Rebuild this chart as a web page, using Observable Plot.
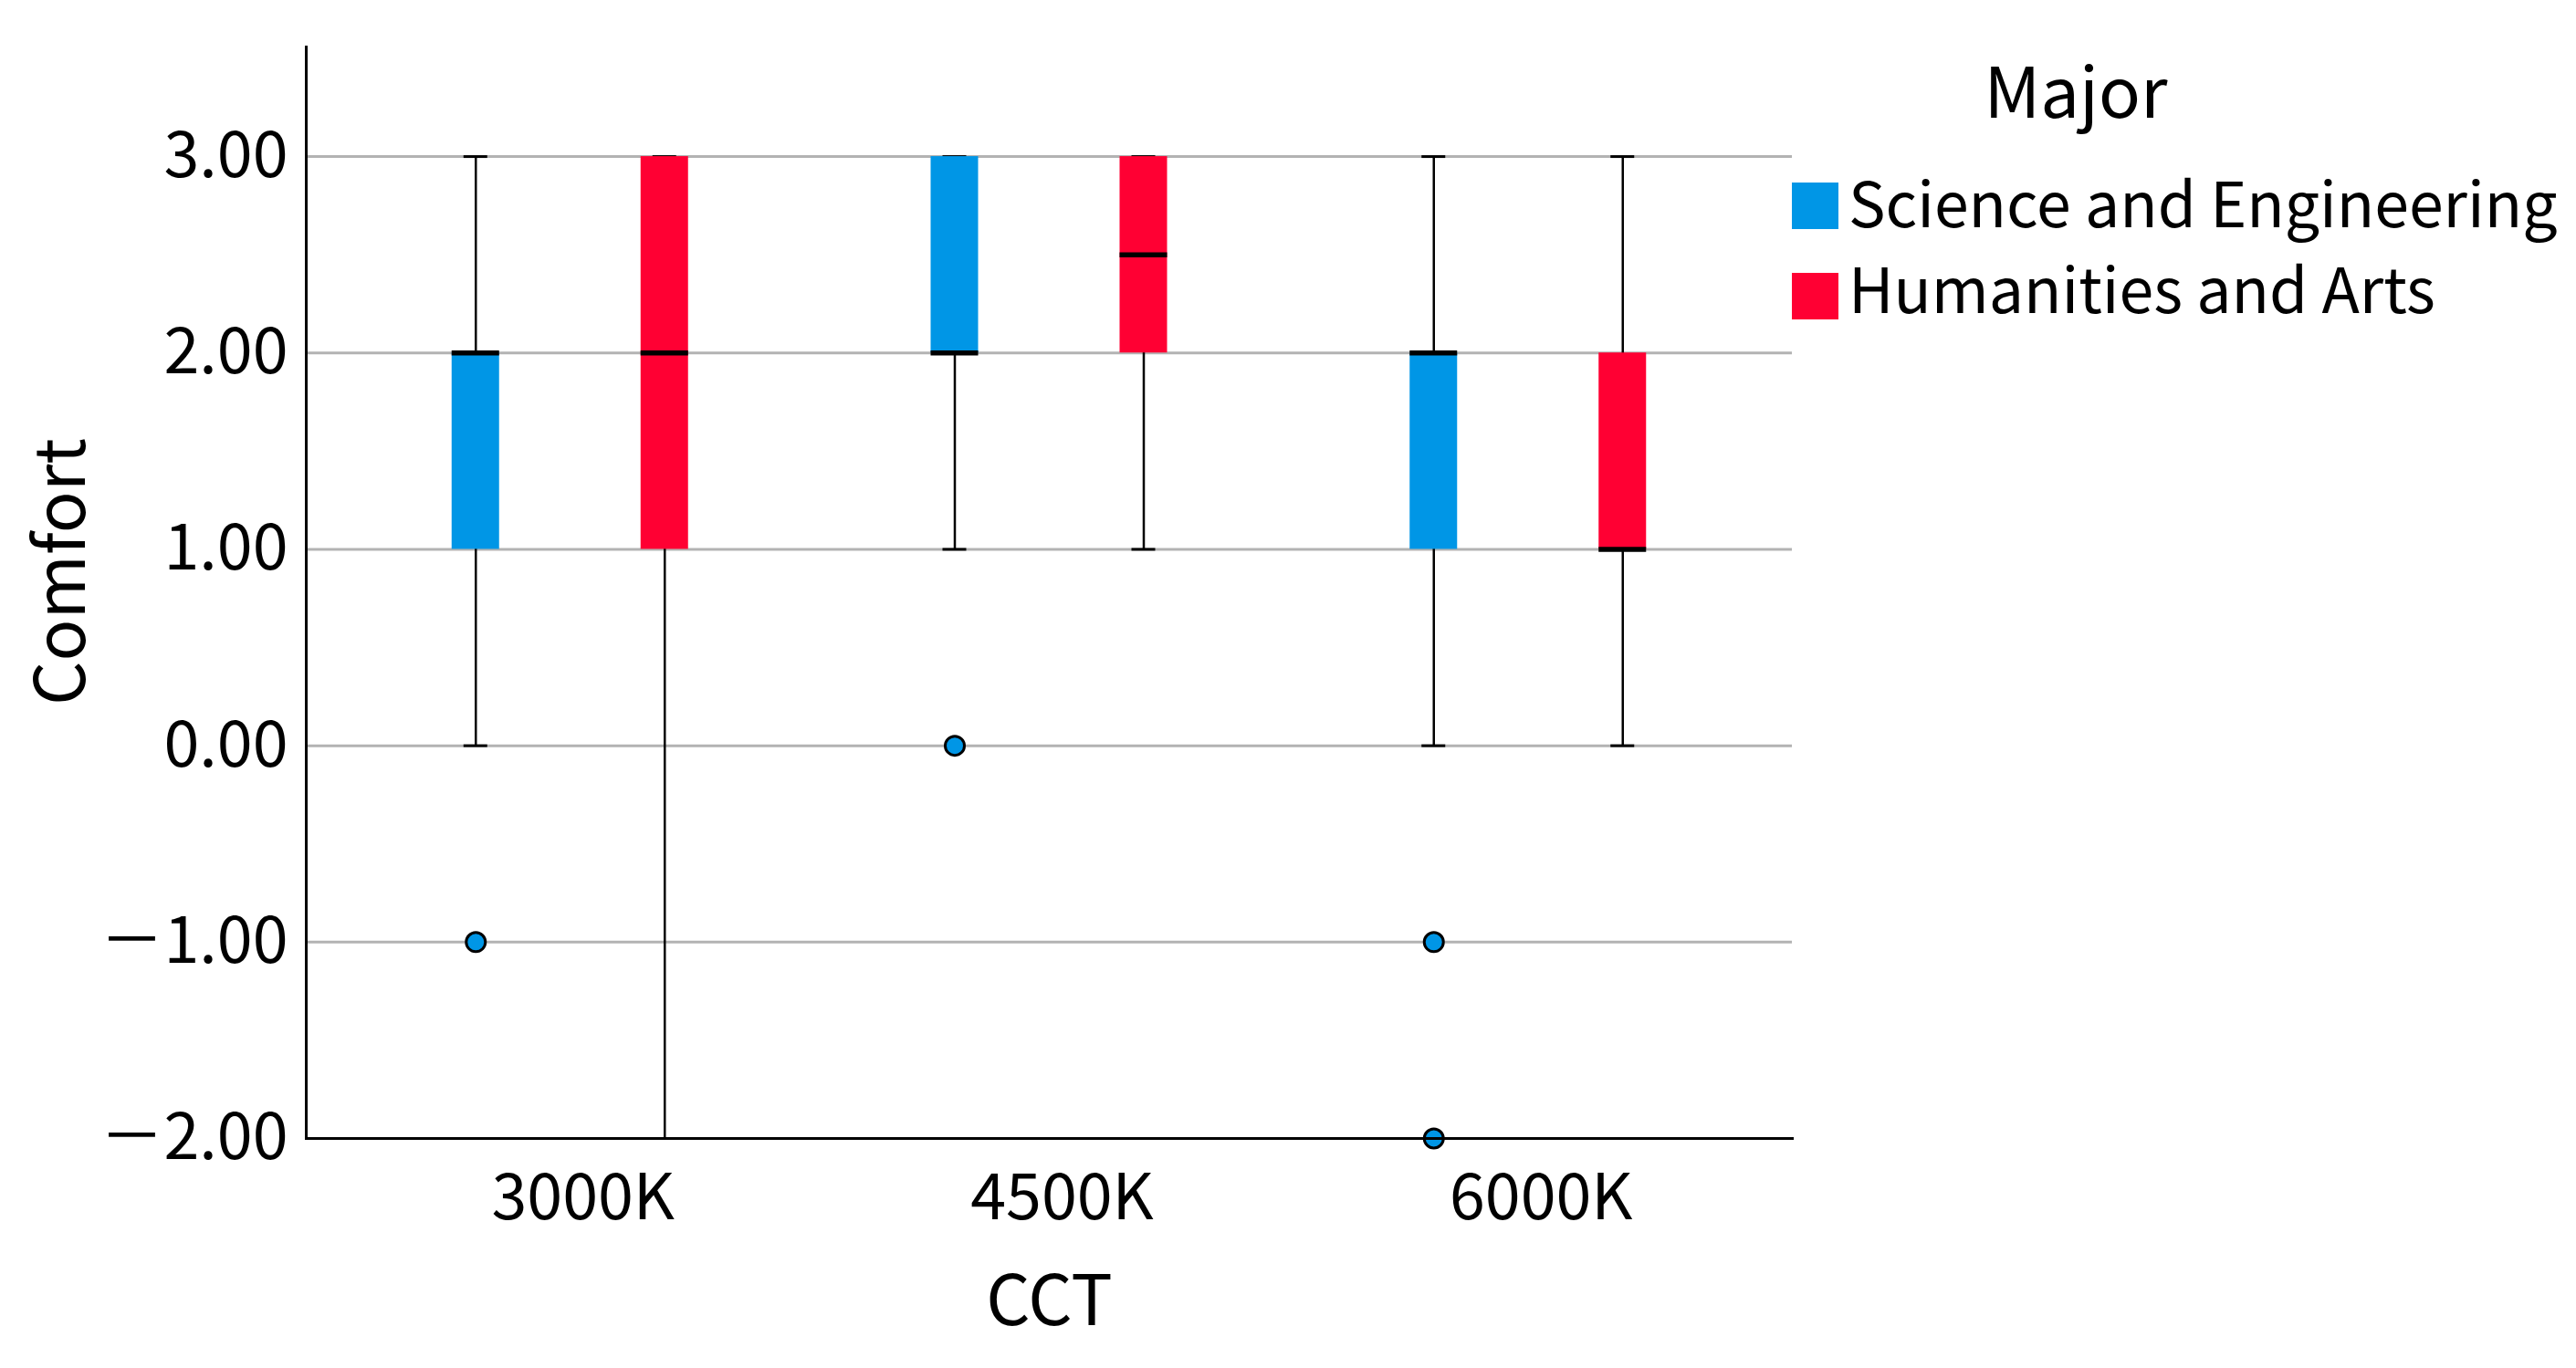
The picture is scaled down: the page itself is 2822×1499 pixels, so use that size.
<!DOCTYPE html>
<html>
<head>
<meta charset="utf-8">
<script src="https://cdn.jsdelivr.net/npm/d3@7"></script>
<script src="https://cdn.jsdelivr.net/npm/@observablehq/plot@0.6"></script>
<style>
  html, body { margin: 0; padding: 0; background: white; }
  #wrap { position: relative; width: 2822px; height: 1499px; }
  #legend { position: absolute; left: 0; top: 0; font-family: "Noto Sans CJK SC", "Noto Sans", sans-serif; color: black; }
  .lg-title { position: absolute; white-space: nowrap; font-size: 76px; line-height: 76px; transform: translateX(-50%); }
  .lg-item { position: absolute; white-space: nowrap; font-size: 68px; line-height: 68px; }
  .sw { position: absolute; width: 51px; height: 51px; }
</style>
</head>
<body>
<div id="wrap"><div id="chart"></div><div id="legend"></div></div>
<script>
// ---- data ----
const cct = ["3000K", "4500K", "6000K"];
const majors = ["Science and Engineering", "Humanities and Arts"];
const colors = ["#0096e6", "#ff0033"];

// Science and Engineering box statistics per CCT
const seLow    = [0, 1, 0];
const seQ1     = [1, 2, 1];
const seMedian = [2, 2, 2];
const seQ3     = [2, 3, 2];
const seHigh   = [3, 3, 3];

// Humanities and Arts box statistics per CCT
const haLow    = [-2, 1, 0];
const haQ1     = [1, 2, 1];
const haMedian = [2, 2.5, 1];
const haQ3     = [3, 3, 2];
const haHigh   = [3, 3, 3];

// outliers (all Science and Engineering)
const outlierCCT   = ["3000K", "4500K", "6000K", "6000K"];
const outlierValue = [-1, 0, -1, -2];

const yTicks = [-2, -1, 0, 1, 2, 3];

// ---- build tables ----
function rows(low, q1, med, q3, high, major) {
  return cct.map((c, i) => ({cct: c, major, low: low[i], q1: q1[i], med: med[i], q3: q3[i], high: high[i]}));
}
const seRows = rows(seLow, seQ1, seMedian, seQ3, seHigh, majors[0]);
const haRows = rows(haLow, haQ1, haMedian, haQ3, haHigh, majors[1]);
const outliers = outlierCCT.map((c, i) => ({cct: c, value: outlierValue[i], major: majors[0]}));

const W = 2822, H = 1499;
const mL = 335, mR = W - 1963, mT = 51, mB = H - 1247;
const step = (W - mL - mR) / 3.1024;
const boxW = 52, capW = 26;
const boxInset = (step - boxW) / 2;
const capInset = (step - capW) / 2;
const off = [-103.5, 103.5];

function groupMarks(data, k) {
  const dx = off[k];
  return [
    Plot.ruleX(data, {x: "cct", y1: "low", y2: "high", dx, stroke: "black", strokeWidth: 2.5}),
    Plot.tickY(data, {x: "cct", y: "low", dx, stroke: "black", strokeWidth: 3, insetLeft: capInset, insetRight: capInset}),
    Plot.tickY(data, {x: "cct", y: "high", dx, stroke: "black", strokeWidth: 3, insetLeft: capInset, insetRight: capInset}),
    Plot.barY(data, {x: "cct", y1: "q1", y2: "q3", dx, fill: colors[k], insetLeft: boxInset, insetRight: boxInset}),
    Plot.tickY(data, {x: "cct", y: "med", dx, stroke: "black", strokeWidth: 5.5, insetLeft: boxInset, insetRight: boxInset})
  ];
}

const fmt = d => (d < 0 ? "\uFF0D" : "") + Math.abs(d).toFixed(2);

const chart = Plot.plot({
  width: W,
  height: H,
  marginLeft: mL,
  marginRight: mR,
  marginTop: mT,
  marginBottom: mB,
  style: {fontFamily: "'Noto Sans CJK SC', 'Noto Sans', sans-serif", fontSize: "70px", background: "white", color: "black", overflow: "visible"},
  x: {type: "band", domain: cct, paddingInner: 0, paddingOuter: 0.0512, round: false},
  y: {domain: [-2, 3.558]},
  marks: [
    Plot.gridY(yTicks, {stroke: "#b3b3b3", strokeOpacity: 1, strokeWidth: 3}),
    ...groupMarks(seRows, 0),
    ...groupMarks(haRows, 1),
    Plot.dot(outliers, {x: "cct", y: "value", dx: off[0], r: 10.5, fill: colors[0], stroke: "black", strokeWidth: 3}),
    Plot.frame({anchor: "left", stroke: "black", strokeWidth: 3}),
    Plot.frame({anchor: "bottom", stroke: "black", strokeWidth: 3}),
    Plot.axisY(yTicks, {tickSize: 0, tickPadding: 20, tickFormat: fmt, fontSize: 70, label: null}),
    Plot.axisX({tickSize: 0, tickPadding: 39, fontSize: 70, dx: 14, label: null}),
    Plot.text(["CCT"], {frameAnchor: "bottom", dy: 180, fontSize: 76, text: d => d, textAnchor: "middle", lineAnchor: "middle"}),
    Plot.text(["Comfort"], {frameAnchor: "left", dx: -267, dy: -23, rotate: -90, fontSize: 76, text: d => d, textAnchor: "middle", lineAnchor: "middle"})
  ]
});
document.getElementById("chart").appendChild(chart);

// ---- legend (HTML, to the right of the plot) ----
const legend = document.getElementById("legend");
const title = document.createElement("div");
title.className = "lg-title";
title.textContent = "Major";
title.style.left = "2274px";
title.style.top = "58px";
legend.appendChild(title);
const swTops = [200, 299];
const textTops = [186, 280];
majors.forEach((m, i) => {
  const sw = document.createElement("div");
  sw.className = "sw";
  sw.style.left = "1963px";
  sw.style.top = swTops[i] + "px";
  sw.style.background = colors[i];
  legend.appendChild(sw);
  const t = document.createElement("div");
  t.className = "lg-item";
  t.textContent = m;
  t.style.left = "2025px";
  t.style.top = textTops[i] + "px";
  legend.appendChild(t);
});
</script>
</body>
</html>
